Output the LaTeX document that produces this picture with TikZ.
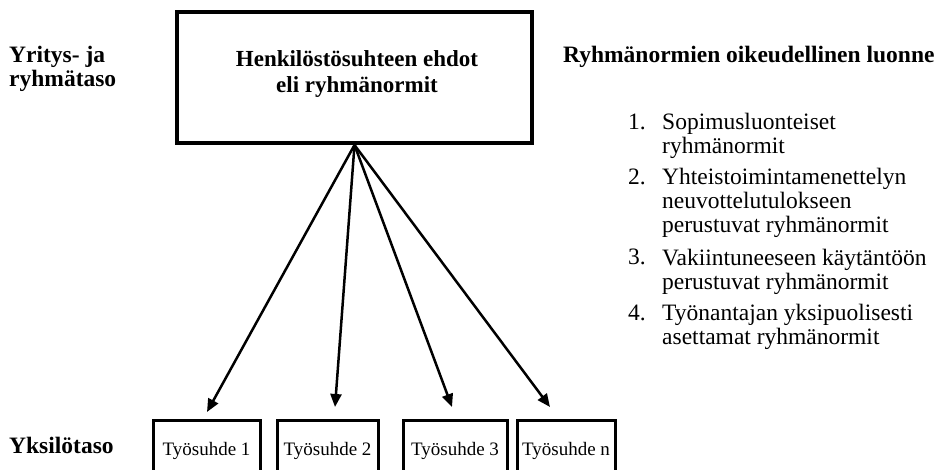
\documentclass[tikz,border=0pt]{standalone}
\usepackage{fontspec}
\setmainfont{Liberation Serif}
\usetikzlibrary{arrows.meta}
\newcommand\tiukka{\lineskiplimit=-20pt\relax}

\begin{document}
\begin{tikzpicture}[x=1pt,y=-1pt,every node/.style={inner sep=0pt},
    taso/.style={font=\fontsize{23.5}{24}\selectfont\bfseries\tiukka,align=left,anchor=base west},
    kohta/.style={font=\fontsize{23.5}{24}\selectfont\tiukka,align=left,anchor=base west},
    suhde/.style={draw,line width=3pt,minimum height=62pt,font=\fontsize{19}{20}\selectfont},
    nuoli/.style={line width=2.5pt,-{Triangle[length=13pt,width=11pt]}}]

    \useasboundingbox (0,0) rectangle (944,470);
    \clip (0,0) rectangle (944,470);

    % Levels on the left (base = last line)
    \node[taso] (ylataso) at (9,87) {Yritys- ja\\ryhmätaso};
    \node[taso] (alataso) at (9,453) {Yksilötaso};

    % Upper box
    \node[draw,line width=4pt,minimum width=355pt,minimum height=131pt] (normit) at (354.5,77.5) {};
    \node[align=center,anchor=base,font=\fontsize{23}{26}\selectfont\bfseries\tiukka] (normitnimi)
        at (357,93) {Henkilöstösuhteen ehdot\\eli ryhmänormit};

    % Lower boxes
    \node[suhde,minimum width=107pt] (s1) at (206.5,451) {Työsuhde 1};
    \node[suhde,minimum width=101pt] (s2) at (327.5,451) {Työsuhde 2};
    \node[suhde,minimum width=104pt] (s3) at (455,451) {Työsuhde 3};
    \node[suhde,minimum width=98pt]  (s4) at (566,451) {Työsuhde n};

    \coordinate (k1) at (207,412); \coordinate (k2) at (335,407);
    \coordinate (k3) at (452,407); \coordinate (k4) at (550,407);
    \foreach \i in {1,...,4}
        \draw[nuoli] (normit.south) -- (k\i);

    % List on the right (base = last line)
    \node[taso] (otsikko) at (563,63) {Ryhmänormien oikeudellinen luonne};
    \node[kohta] (n1) at (628,130) {1.};
    \node[kohta] (t1) at (662,154) {Sopimusluonteiset\\ryhmänormit};
    \node[kohta] (n2) at (628,185) {2.};
    \node[kohta] (t2) at (662,233) {Yhteistoimintamenettelyn\\neuvottelutulokseen\\perustuvat ryhmänormit};
    \node[kohta] (n3) at (628,265) {3.};
    \node[kohta] (t3) at (662,289) {Vakiintuneeseen käytäntöön\\perustuvat ryhmänormit};
    \node[kohta] (n4) at (628,320) {4.};
    \node[kohta] (t4) at (662,344) {Työnantajan yksipuolisesti\\asettamat ryhmänormit};
\end{tikzpicture}
\end{document}
